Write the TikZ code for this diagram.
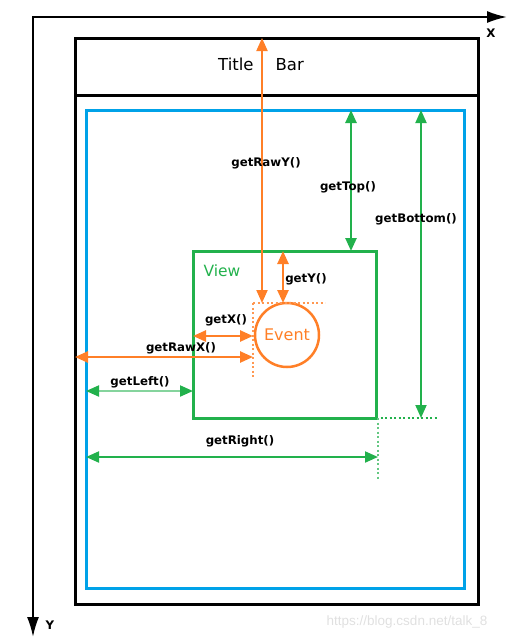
\documentclass[tikz,border=0pt]{standalone}
\usepackage{fontspec}
\setmainfont{DejaVu Sans}
\newfontfamily\markfont{Liberation Sans}
\usetikzlibrary{arrows.meta}
\definecolor{vgreen}{RGB}{34,177,76}
\definecolor{vorange}{RGB}{255,127,39}
\definecolor{vblue}{RGB}{0,162,232}

\begin{document}
\begin{tikzpicture}[x=1pt, y=-1pt,
  box/.style = {draw, inner sep=0pt, outer sep=0pt, anchor=north west},
  lbl/.style = {font=\bfseries\fontsize{11.8}{13}\selectfont},
  oarr/.style = {vorange, line width=2.5pt, {Triangle[width=11pt,length=13pt]}-{Triangle[width=11pt,length=13pt]}},
  garr/.style = {vgreen, line width=2.5pt, {Triangle[width=11pt,length=13pt]}-{Triangle[width=11pt,length=13pt]}},
  dots/.style = {line width=2pt, dash pattern=on 2pt off 2.5pt},
  axis/.style = {line width=2pt, line join=miter, {Latex[width=12pt,length=20pt]}-{Latex[width=12pt,length=20pt]}}]
\useasboundingbox (0,0) rectangle (510,641);

% axes
\coordinate (o) at (33,17);
\coordinate (xend) at (507,17);
\coordinate (yend) at (33,637);
\draw[axis] (xend) -- (o) -- (yend);
\node[lbl] (xlab) at (491,33) {X};
\node[lbl] (ylab) at (50,625) {Y};

% window, content area, view, event
\node[box, line width=3pt, minimum width=403pt, minimum height=566pt] (win) at (75,38) {};
\draw[line width=3pt] (win.west |- 0,95) -- (win.east |- 0,95);
\node[font=\fontsize{16.5}{18}\selectfont] (title) at (261,64) {Title\hspace{22pt}Bar};
\node[box, draw=vblue, line width=3pt, minimum width=378pt, minimum height=478pt] (client) at (86,110) {};
\node[box, draw=vgreen, line width=3pt, minimum width=183pt, minimum height=167pt] (view) at (193,251) {};
\node[text=vgreen, font=\fontsize{15.5}{17}\selectfont] (vlab) at (222,271) {View};
\node[circle, draw=vorange, line width=2.5pt, minimum size=64pt, inner sep=0pt, text=vorange,
  font=\fontsize{16}{18}\selectfont] (event) at (287,335) {Event};

% guide lines
\coordinate (evc) at (253,303);
\draw[dots, vorange!80, line width=1.6pt] (evc) -- (325,303);
\draw[dots, vorange!80, line width=1.6pt] (evc) -- (253,378);
\coordinate (vc) at (378,418);
\draw[dots, vgreen] (view.south east) -- (438,418);
\draw[dots, vgreen!70, line width=1.6pt] (vc) -- (378,480);

% raw and local coordinates
\coordinate (rawy) at (262,303);
\draw[oarr, line width=2pt] (rawy |- win.north) -- (rawy);
\coordinate (gety) at (283,303);
\draw[oarr] (gety |- view.north) -- (gety);
\coordinate (getx) at (253,336);
\draw[oarr] (getx -| view.west) -- (getx);
\coordinate (rawx) at (253,357);
\draw[oarr] (rawx -| win.west) -- (rawx);

% view position in parent
\coordinate (left) at (193,391);
\draw[vgreen!55, line width=2pt, {Triangle[width=11pt,length=13pt,color=vgreen]}-{Triangle[width=11pt,length=13pt,color=vgreen]}] (left -| client.west) -- (left);
\coordinate (right) at (378,457);
\draw[garr, line width=2pt] (right -| client.west) -- (right);
\coordinate (top) at (351,251);
\draw[garr] (top |- client.north) -- (top);
\coordinate (bottom) at (421,418);
\draw[garr, line width=1.8pt] (bottom |- client.north) -- (bottom);

\node[lbl] (rawylab) at (266,163) {getRawY()};
\node[lbl] (getylab) at (306,279) {getY()};
\node[lbl] (getxlab) at (226,320) {getX()};
\node[lbl] (rawxlab) at (181,348) {getRawX()};
\node[lbl] (leftlab) at (140,382) {getLeft()};
\node[lbl] (rightlab) at (240,441) {getRight()};
\node[lbl] (toplab) at (348,187) {getTop()};
\node[lbl] (bottomlab) at (416,219) {getBottom()};

\node[text=black!12, font=\markfont\fontsize{13.5}{15}\selectfont] (mark) at (407,622) {https://blog.csdn.net/talk\_8};
\end{tikzpicture}
\end{document}
